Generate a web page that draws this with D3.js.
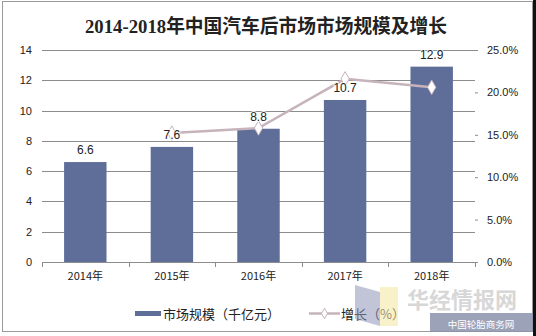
<!DOCTYPE html>
<html>
<head>
<meta charset="utf-8">
<script src="https://cdn.jsdelivr.net/npm/d3@7"></script>
<style>
  html, body { margin: 0; padding: 0; background: #fff; }
  svg { display: block; }
</style>
</head>
<body>
<svg id="chart" width="536" height="336"></svg>
<script>
// Data
const years = ["2014年", "2015年", "2016年", "2017年", "2018年"];
const marketSize = [6.6, 7.6, 8.8, 10.7, 12.9];          // 千亿元
const growth = [null, 15.2, 15.8, 21.6, 20.6];           // %
const leftTicks = [0, 2, 4, 6, 8, 10, 12, 14];
const rightTicks = [0, 5, 10, 15, 20, 25];

const svg = d3.select("#chart");
const W = 536, H = 336;
const m = { left: 42, right: 475, top: 50, bottom: 262 };

const cjk = "'Noto Sans CJK SC', 'Liberation Sans', sans-serif";
const latin = "'Liberation Sans', Arial, sans-serif";
const barColor = "#5f6e99";
const lineColor = "#c6b3bc";

// frame
svg.append("rect").attr("x", 0).attr("y", 0).attr("width", W).attr("height", H).attr("fill", "#fff");
svg.append("rect").attr("x", 2.5).attr("y", 1.5).attr("width", 530).attr("height", 330)
  .attr("fill", "none").attr("stroke", "#9a9a9a").attr("stroke-width", 1);
svg.append("rect").attr("x", 533).attr("y", 0).attr("width", 3).attr("height", H).attr("fill", "#111");

// title
svg.append("text")
  .attr("x", 266).attr("y", 33)
  .attr("text-anchor", "middle")
  .attr("font-family", "'Liberation Serif', 'Noto Sans CJK SC', serif")
  .attr("font-weight", "bold")
  .attr("font-size", 19)
  .attr("fill", "#222")
  .attr("textLength", 362).attr("lengthAdjust", "spacingAndGlyphs")
  .text("2014-2018年中国汽车后市场市场规模及增长");

// scales
const x = d3.scaleBand().domain(years).range([m.left, m.right]).paddingInner(0.51).paddingOuter(0.255);
const xb = d3.scaleBand().domain(years).range([m.left, m.right]);
const y = d3.scaleLinear().domain([0, 14]).range([m.bottom, m.top]);
const y2 = d3.scaleLinear().domain([0, 25]).range([m.bottom, m.top]);

// gridlines
svg.append("g").selectAll("line").data(leftTicks.filter(d => d > 0)).join("line")
  .attr("x1", m.left).attr("x2", m.right)
  .attr("y1", d => Math.round(y(d)) + 0.5).attr("y2", d => Math.round(y(d)) + 0.5)
  .attr("stroke", "#8c8c8c").attr("stroke-width", 1);

// left axis
const gl = svg.append("g").attr("transform", `translate(${m.left},0)`)
  .call(d3.axisLeft(y).tickValues(leftTicks).tickSize(0).tickPadding(10).tickFormat(d3.format("d")));
gl.select(".domain").remove();
gl.selectAll("text").attr("font-family", latin).attr("font-size", 11).attr("fill", "#222");

// right axis
const gr = svg.append("g").attr("transform", `translate(${m.right},0)`)
  .call(d3.axisRight(y2).tickValues(rightTicks).tickSize(3).tickPadding(9).tickFormat(d => d.toFixed(1) + "%"));
gr.select(".domain").remove();
gr.selectAll("line").attr("stroke", "#8c8c8c");
gr.selectAll("text").attr("font-family", latin).attr("font-size", 11).attr("fill", "#222");

// bars
svg.append("g").selectAll("rect").data(marketSize).join("rect")
  .attr("x", (d, i) => x(years[i]))
  .attr("y", d => y(d))
  .attr("width", x.bandwidth())
  .attr("height", d => y(0) - y(d))
  .attr("fill", barColor);

// bottom axis
const gb = svg.append("g").attr("transform", `translate(0,${m.bottom})`)
  .call(d3.axisBottom(xb).tickSize(0).tickPadding(10));
gb.select(".domain").attr("stroke", "#8c8c8c");
gb.selectAll("text").attr("font-family", cjk).attr("font-size", 11).attr("fill", "#222");
// category separators
svg.append("g").selectAll("line").data(d3.range(years.length + 1)).join("line")
  .attr("x1", i => Math.round(m.left + i * xb.step()) + 0.5)
  .attr("x2", i => Math.round(m.left + i * xb.step()) + 0.5)
  .attr("y1", m.bottom).attr("y2", m.bottom + 5)
  .attr("stroke", "#8c8c8c");

// growth line
const pts = growth.map((g, i) => ({ g, yr: years[i] })).filter(d => d.g !== null);
const line = d3.line().x(d => xb(d.yr) + xb.bandwidth() / 2).y(d => y2(d.g));
svg.append("path").datum(pts).attr("d", line)
  .attr("fill", "none").attr("stroke", lineColor).attr("stroke-width", 2.5);
const diamond = d3.symbol().type(d3.symbolDiamond).size(60);
svg.append("g").selectAll("path").data(pts).join("path")
  .attr("d", diamond)
  .attr("transform", d => `translate(${xb(d.yr) + xb.bandwidth() / 2},${y2(d.g)})`)
  .attr("fill", "#fff").attr("stroke", lineColor).attr("stroke-width", 1);

// bar value labels, drawn above the line with a white halo
svg.append("g").selectAll("text").data(marketSize).join("text")
  .attr("x", (d, i) => x(years[i]) + x.bandwidth() / 2)
  .attr("y", d => y(d) - 8)
  .attr("text-anchor", "middle")
  .attr("font-family", latin).attr("font-size", 12).attr("fill", "#222")
  .attr("stroke", "#fff").attr("stroke-width", 2).attr("stroke-opacity", 0.8)
  .attr("paint-order", "stroke")
  .text(d => d.toFixed(1));

// legend
const lg = svg.append("g");
lg.append("rect").attr("x", 135).attr("y", 311).attr("width", 26).attr("height", 5).attr("fill", barColor);
lg.append("text").attr("x", 163).attr("y", 319).attr("font-family", cjk).attr("font-size", 13).attr("fill", "#222")
  .text("市场规模（千亿元）");
lg.append("line").attr("x1", 309).attr("x2", 340).attr("y1", 313.5).attr("y2", 313.5)
  .attr("stroke", lineColor).attr("stroke-width", 2.5);
lg.append("path").attr("d", d3.symbol().type(d3.symbolDiamond).size(32)).attr("transform", "translate(324.5,313.5)")
  .attr("fill", "#fff").attr("stroke", lineColor);
lg.append("text").attr("x", 341).attr("y", 319).attr("font-family", cjk).attr("font-size", 13).attr("fill", "#222")
  .text("增长（%）");

// watermark
const wm = svg.append("g").attr("opacity", 0.55);
wm.append("path").attr("d", "M355,285 L380,292 L380,326 L355,319 Z").attr("fill", "#8f97b8");
wm.append("rect").attr("x", 380).attr("y", 287).attr("width", 18).attr("height", 39).attr("fill", "#f4e6a0");
wm.append("text").attr("x", 407).attr("y", 308).attr("font-family", cjk).attr("font-size", 22)
  .attr("font-weight", "bold").attr("fill", "#b8b8b8").text("华经情报网");
svg.append("rect").attr("x", 430).attr("y", 313).attr("width", 103).attr("height", 19)
  .attr("fill", "#8b93ad").attr("opacity", 0.85);
svg.append("text").attr("x", 481).attr("y", 328).attr("text-anchor", "middle")
  .attr("font-family", cjk).attr("font-size", 9.5).attr("fill", "#fff").text("中国轮胎商务网");
</script>
</body>
</html>
